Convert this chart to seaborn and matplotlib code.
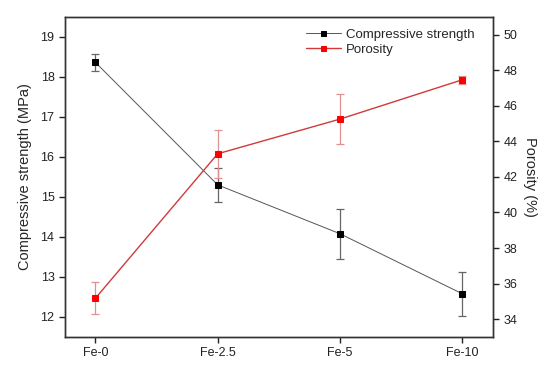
import numpy as np
import pandas as pd
import matplotlib
matplotlib.use("Agg")
import matplotlib.pyplot as plt
import seaborn as sns

# data
samples = ["Fe-0", "Fe-2.5", "Fe-5", "Fe-10"]
strength = [18.36, 15.30, 14.08, 12.58]
strength_err = [0.21, 0.43, 0.63, 0.55]
porosity = [35.18, 43.30, 45.25, 47.46]
porosity_err = [0.90, 1.35, 1.41, 0.22]

sns.set_style("ticks")
plt.rcParams["font.family"] = ["Liberation Sans", "DejaVu Sans"]

df = pd.DataFrame({"pos": np.arange(len(samples)), "sample": samples,
                   "strength": strength, "porosity": porosity})

fig = plt.figure(figsize=(5.5, 3.74), dpi=100)
ax = fig.add_axes([0.118, 0.099, 0.778, 0.856])
ax2 = ax.twinx()

# error bars first (lighter), then lines + markers
ax.errorbar(df["pos"], df["strength"], yerr=strength_err, fmt="none",
            ecolor="#666666", elinewidth=0.9, capsize=3, capthick=0.9, zorder=1)
ax2.errorbar(df["pos"], df["porosity"], yerr=porosity_err, fmt="none",
             ecolor="#e09090", elinewidth=0.9, capsize=3, capthick=0.9, zorder=1)

sns.lineplot(data=df, x="pos", y="strength", ax=ax, color="#555555",
             linewidth=0.7, marker="s", markersize=4.5, markerfacecolor="black",
             markeredgecolor="black", label="Compressive strength", legend=False)
sns.lineplot(data=df, x="pos", y="porosity", ax=ax2, color="#d03a3a",
             linewidth=1.0, marker="s", markersize=4.5, markerfacecolor="red",
             markeredgecolor="red", label="Porosity", legend=False)

ax.set_xlim(-0.25, 3.25)
ax.set_ylim(11.5, 19.5)
ax2.set_ylim(33, 51)
ax.set_xticks(df["pos"])
ax.set_xticklabels(samples)
ax.set_yticks(np.arange(12, 20, 1))
ax2.set_yticks(np.arange(34, 51, 2))
ax.set_xlabel("")
ax.set_ylabel("Compressive strength (MPa)", fontsize=10.5, labelpad=6)
ax2.set_ylabel("Porosity (%)", fontsize=10.5, rotation=270, labelpad=14)

for a in (ax, ax2):
    a.tick_params(labelsize=9, length=4, width=1, colors="#222222", direction="out")
    for s in a.spines.values():
        s.set_visible(True)
        s.set_color("#333333")
        s.set_linewidth(1.0)

h1, l1 = ax.get_legend_handles_labels()
h2, l2 = ax2.get_legend_handles_labels()
ax.legend(h1 + h2, l1 + l2, loc="upper right", frameon=False, fontsize=9.5,
          handlelength=2.6, borderaxespad=0.5, labelspacing=0.2, handletextpad=0.4,
          markerscale=0.8, bbox_to_anchor=(0.985, 1.0))

fig.savefig("out.png", dpi=100)
